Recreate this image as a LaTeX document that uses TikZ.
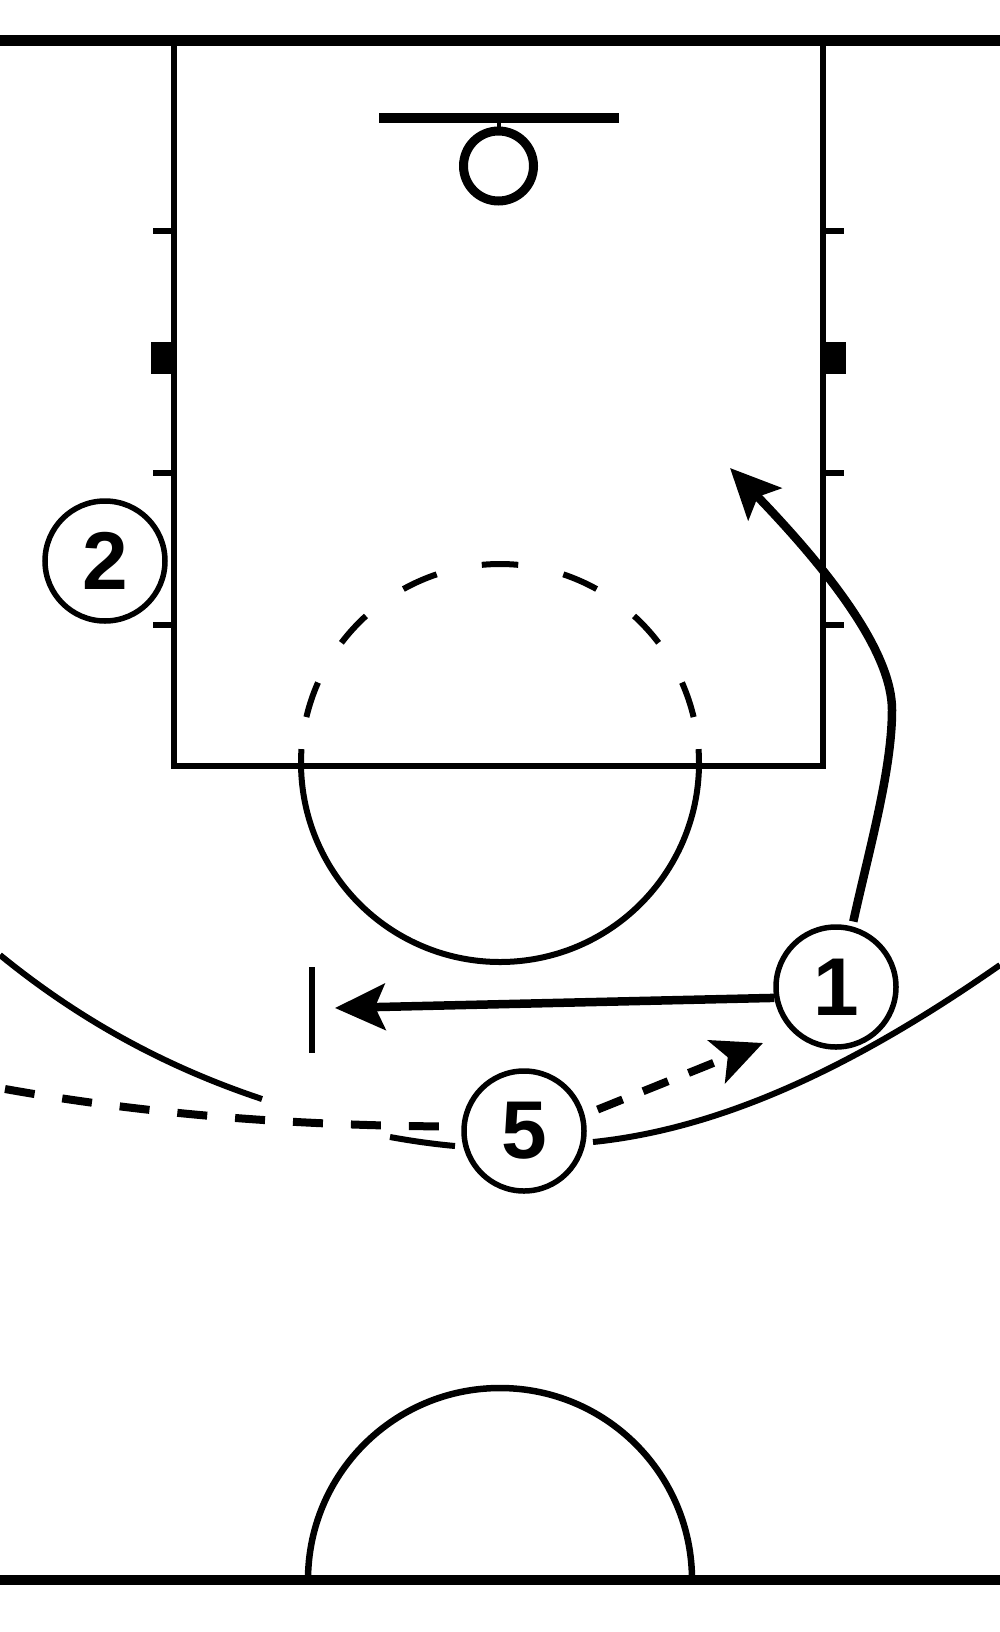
\documentclass[tikz,border=0pt]{standalone}
\usepackage{fontspec}
\setmainfont{Liberation Sans}
\usetikzlibrary{arrows.meta}
\begin{document}
\begin{tikzpicture}[x=1pt,y=-1pt,
  court/.style={line width=6pt, line cap=butt, line join=miter},
  player/.style={circle, draw, fill=white, line width=5.5pt, minimum size=120pt, inner sep=0pt,
    font=\fontsize{82}{82}\selectfont\bfseries},
  move/.style={line width=8.5pt, -{Stealth[length=50pt,width=46pt,inset=10pt]}},
  pass/.style={line width=8pt, dash pattern=on 27pt off 22pt, -{Stealth[length=50pt,width=46pt,inset=12pt]}},
  passline/.style={line width=8pt, dash pattern=on 30pt off 28pt},
]
\useasboundingbox (0,0) rectangle (1000,1632);
\clip (0,0) rectangle (1000,1632);

% baselines
\draw[line width=11pt] (0,41) -- (1000,41);
\draw[line width=10pt] (0,1580) -- (1000,1580);

% lane
\draw[court] (174,41) -- (174,766) -- (823,766) -- (823,41);
% lane marks
\foreach \yy in {231,473,625} {
  \draw[court] (153,\yy) -- (174,\yy);
  \draw[court] (823,\yy) -- (844,\yy);
}
\fill (151,342) rectangle (174,374);
\fill (823,342) rectangle (846,374);

% backboard and rim
\draw[line width=10pt] (379,118) -- (619,118);
\draw[line width=4pt] (498.5,118) -- (498.5,132);
\draw[line width=9pt] (498.5,166) circle[radius=35];

% free throw circle
\draw[court] (500,763) ++(-4:199) arc[start angle=-4, end angle=184, radius=199];
\foreach \a in {-161.4,-137.6,-113.8,-90,-66.2,-42.4,-18.6} {
  \pgfmathsetmacro\sa{\a-5.25}
  \pgfmathsetmacro\ea{\a+5.25}
  \draw[court] (500,763) ++(\sa:199) arc[start angle=\sa, end angle=\ea, radius=199];
}

% three point line
\draw[court] (0,955) .. controls (87,1026) and (175,1070) .. (262,1099);
\draw[court] (390,1137) .. controls (412,1141) and (433,1144) .. (455,1146);
\draw[court] (593,1142) .. controls (729,1128) and (864,1060) .. (1000,965);

% centre circle
\draw[line width=6.5pt] (308,1580) arc[start angle=180, end angle=360, radius=192];

% screen mark
\coordinate (scrT) at (312,967);
\coordinate (scrB) at (312,1053);
\draw[line width=6pt] (scrT) -- (scrB);

% players
\node[player] (p2) at (105,561) {2};
\node[player] (p1) at (836,987) {1};
\node[player] (p5) at (524,1131) {5};

% free ends
\coordinate (tipL) at (335,1008);
\coordinate (tipC) at (730,468);
\coordinate (tipD) at (763,1043);
\coordinate (pstart) at (5,1089);

% connectors
\draw[move] (p1.190) -- (tipL);
\draw[move, shorten <=5pt] (p1.75) .. controls (869,850) and (892,770) .. (892,710)
   .. controls (892,655) and (836,578) .. (tipC);
\draw[pass, shorten <=14pt] (p5.15) -- (tipD);
\draw[passline, shorten >=20pt] (pstart) .. controls (140,1113) and (280,1125) .. (p5.176);
\end{tikzpicture}
\end{document}
